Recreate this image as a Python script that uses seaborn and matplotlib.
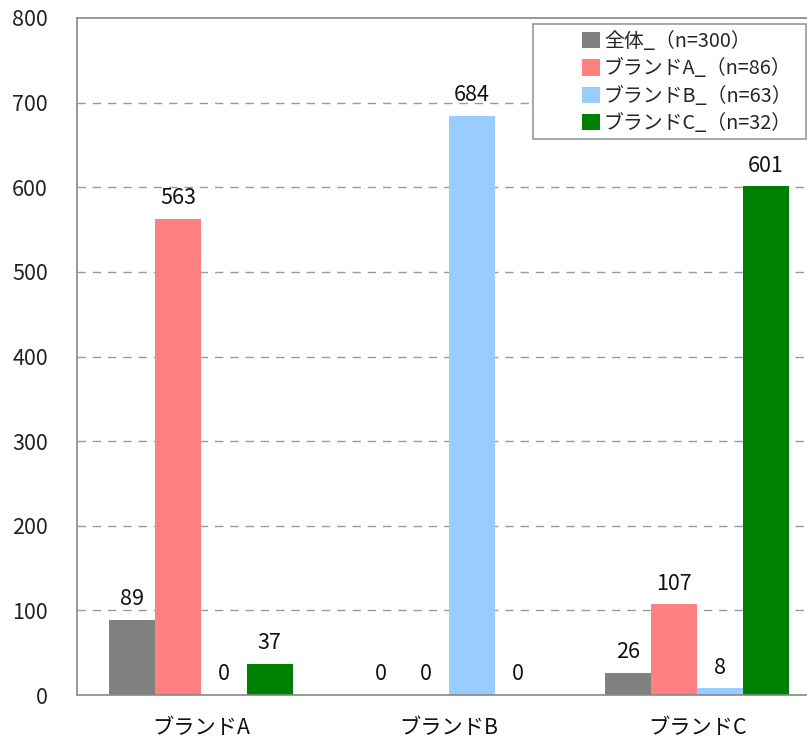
import matplotlib
matplotlib.use("Agg")
import matplotlib.pyplot as plt
from matplotlib.patches import Patch, Rectangle
import seaborn as sns
import pandas as pd

# Data
categories = ["ブランドA", "ブランドB", "ブランドC"]
series = ["全体_（n=300）", "ブランドA_（n=86）", "ブランドB_（n=63）", "ブランドC_（n=32）"]
values_all = [89, 0, 26]
values_a = [563, 0, 107]
values_b = [0, 684, 8]
values_c = [37, 0, 601]
colors = ["#808080", "#FF8080", "#99CCFF", "#008000"]
y_ticks = [0, 100, 200, 300, 400, 500, 600, 700, 800]

rows = []
for s, vals in zip(series, [values_all, values_a, values_b, values_c]):
    for c, v in zip(categories, vals):
        rows.append({"category": c, "series": s, "value": v})
df = pd.DataFrame(rows)

sns.set_style("white")
plt.rcParams["font.family"] = ["Noto Sans CJK JP", "DejaVu Sans"]

fig = plt.figure(figsize=(8.07, 7.41), dpi=100)
ax = fig.add_axes([77 / 807, 46 / 741, 744 / 807, 677 / 741])

palette = dict(zip(series, colors))
sns.barplot(data=df, x="category", y="value", hue="series", order=categories,
            hue_order=series, palette=palette, width=0.738, saturation=1,
            legend=False, ax=ax, linewidth=0)

ax.set_ylim(0, 800)
ax.set_xlim(-0.5, 2.5)
ax.set_yticks(y_ticks)
ax.set_yticklabels([str(t) for t in y_ticks], fontsize=15.5, color="#222222")
ax.set_xlabel("")
ax.set_ylabel("")
ax.tick_params(axis="x", which="major", length=0, pad=16, labelsize=15.3,
               labelcolor="#111111")
ax.tick_params(axis="y", which="major", length=3, width=1, color="#888888",
               direction="out", pad=18)
ax.set_xticks([0.5, 1.5], minor=True)
ax.tick_params(axis="x", which="minor", length=6, width=1, color="#888888",
               direction="in")

# Dashed gridlines
for t in y_ticks[1:-1]:
    ax.axhline(t, color="#999999", linestyle=(0, (6, 5)), linewidth=1, zorder=0)

for side in ["left", "bottom", "top", "right"]:
    ax.spines[side].set_color("#888888")
    ax.spines[side].set_linewidth(1.2)

# Value labels
for container in ax.containers:
    for bar in container:
        h = bar.get_height()
        ax.annotate(f"{int(round(h))}", (bar.get_x() + bar.get_width() / 2, h),
                    xytext=(0, 7), textcoords="offset points",
                    ha="center", va="bottom", fontsize=15.5, color="#111111")

# Legend with framed box
handles = [Patch(facecolor=c, edgecolor="none", label=s) for s, c in zip(series, colors)]
leg = fig.legend(handles=handles, loc="upper left",
                 bbox_to_anchor=(582 / 807, 1 - 31 / 741),
                 frameon=False, fontsize=14.3, handlelength=0.9, handleheight=0.9,
                 handletextpad=0.2, labelspacing=0.32, borderpad=0, borderaxespad=0)
fig.add_artist(Rectangle((533 / 807, 1 - 139 / 741), 273 / 807, 115 / 741,
                         transform=fig.transFigure, facecolor="white",
                         edgecolor="#999999", linewidth=1.2, zorder=2))
leg.set_zorder(3)

fig.savefig("out.png", dpi=100)
